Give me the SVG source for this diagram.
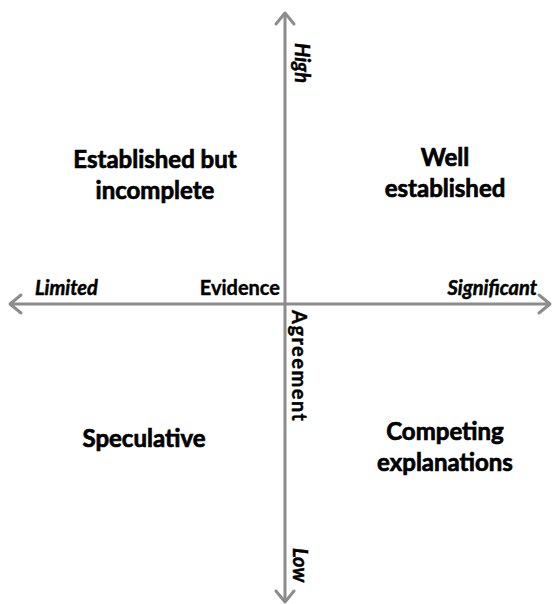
<svg xmlns="http://www.w3.org/2000/svg" width="553" height="604" viewBox="0 0 553 604">
<style>
.axis{stroke:#8c8c8c;stroke-width:3;fill:none}
.head{stroke:#8c8c8c;stroke-width:3;fill:none;stroke-linecap:round;stroke-linejoin:round}
.q{font-family:Lato,"Liberation Sans",sans-serif;font-weight:bold;font-size:24px;fill:#000;stroke:#000;stroke-width:0.7;text-anchor:middle}
.ax{font-family:Lato,"Liberation Sans",sans-serif;font-weight:bold;font-style:italic;font-size:20px;fill:#000;stroke:#000;stroke-width:0.5}
.lbl{font-family:Lato,"Liberation Sans",sans-serif;font-weight:bold;font-size:20px;fill:#000;stroke:#000;stroke-width:0.4}
</style>
<rect width="553" height="604" fill="#fff"/>
<g id="connectors">
<line class="axis" x1="285" y1="14" x2="285" y2="601"/>
<line class="axis" x1="10" y1="304" x2="549" y2="304"/>
<path class="head" d="M276,24 L285,13 L294,24"/>
<path class="head" d="M276,591 L285,602 L294,591"/>
<path class="head" d="M21,295 L10,304 L21,313"/>
<path class="head" d="M539,295 L550,304 L539,313"/>
</g>
<g id="axis-labels">
<text class="ax" transform="translate(295,43) rotate(90)">High</text>
<text class="ax" transform="translate(293,548) rotate(90)">Low</text>
<text class="lbl" transform="translate(292,310) rotate(90)" letter-spacing="1.5">Agreement</text>
<text class="ax" x="35" y="295">Limited</text>
<text class="ax" x="537" y="295" text-anchor="end">Significant</text>
<text class="lbl" x="280" y="295" text-anchor="end">Evidence</text>
</g>
<g id="established-but-incomplete">
<text class="q" x="155" y="168">Established but</text>
<text class="q" x="155" y="199">incomplete</text>
</g>
<g id="well-established">
<text class="q" x="445" y="166">Well</text>
<text class="q" x="445" y="197">established</text>
</g>
<g id="speculative">
<text class="q" x="144" y="447">Speculative</text>
</g>
<g id="competing-explanations">
<text class="q" x="445" y="440">Competing</text>
<text class="q" x="445" y="471">explanations</text>
</g>
</svg>
